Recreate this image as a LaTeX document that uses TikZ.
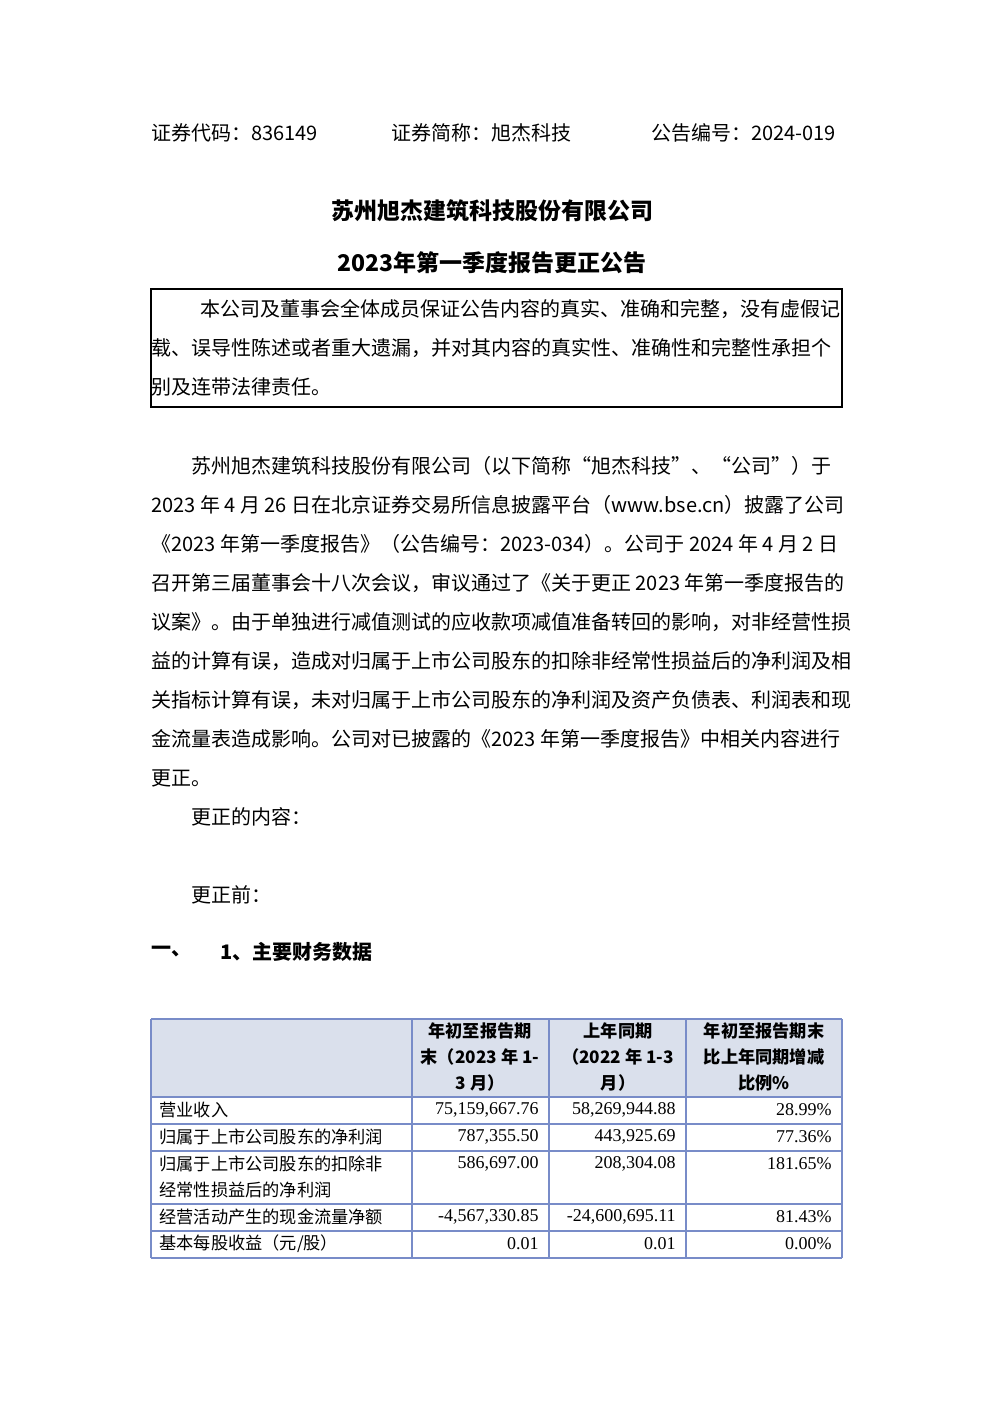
\documentclass[tikz,border=0pt]{standalone}
\usepackage{fontspec}
\setmainfont{Liberation Serif}
\newfontfamily\cjk{Noto Sans CJK SC}
\usetikzlibrary{positioning}
\definecolor{hdrfill}{RGB}{218,224,236}
\definecolor{tblline}{RGB}{120,140,200}
\tikzset{
  txt/.style={anchor=west, inner sep=0pt, font=\cjk\fontsize{10}{12}\selectfont},
  ttl/.style={anchor=center, inner sep=0pt, font=\cjk\bfseries\fontsize{11.5}{13}\selectfont},
  hd/.style={anchor=center, inner sep=0pt, font=\cjk\bfseries\fontsize{8.6}{10}\selectfont},
  cl/.style={anchor=west, inner sep=0pt, font=\cjk\fontsize{8.6}{10}\selectfont},
  num/.style={anchor=east, inner sep=0pt, font=\fontsize{9}{10}\selectfont}
}
\begin{document}
\begin{tikzpicture}[x=0.5pt,y=-0.5pt]
    \useasboundingbox (0,0) rectangle (992,1403);
    % header line
    \node [txt] (code) at (151,133) {证券代码：836149};
    \node [txt] (abbr) at (391,133) {证券简称：旭杰科技};
    \node [txt] (num) at (651,133) {公告编号：2024-019};
    % titles
    \node [ttl] (title1) at (492,211) {苏州旭杰建筑科技股份有限公司};
    \node [ttl] (title2) at (492,263) {2023年第一季度报告更正公告};
    % statement box
    \draw [line width=0.8pt] (151,289) rectangle (842,407);
    \node [txt] (st1) at (200,309) {本公司及董事会全体成员保证公告内容的真实、准确和完整，没有虚假记};
    \node [txt] (st2) at (151,348) {载、误导性陈述或者重大遗漏，并对其内容的真实性、准确性和完整性承担个};
    \node [txt] (st3) at (151,387) {别及连带法律责任。};
    % body
    \node [txt] (p1) at (191,466) {苏州旭杰建筑科技股份有限公司（以下简称“旭杰科技”、“公司”）于};
    \node [txt] (p2) at (151,505) {2023 年 4 月 26 日在北京证券交易所信息披露平台（www.bse.cn）披露了公司};
    \node [txt] (p3) at (151,544) {《2023 年第一季度报告》（公告编号：2023-034）。公司于 2024 年 4 月 2 日};
    \node [txt] (p4) at (151,583) {召开第三届董事会十八次会议，审议通过了《关于更正 2023 年第一季度报告的};
    \node [txt] (p5) at (151,622) {议案》。由于单独进行减值测试的应收款项减值准备转回的影响，对非经营性损};
    \node [txt] (p6) at (151,661) {益的计算有误，造成对归属于上市公司股东的扣除非经常性损益后的净利润及相};
    \node [txt] (p7) at (151,700) {关指标计算有误，未对归属于上市公司股东的净利润及资产负债表、利润表和现};
    \node [txt] (p8) at (151,739) {金流量表造成影响。公司对已披露的《2023 年第一季度报告》中相关内容进行};
    \node [txt] (p9) at (151,778) {更正。};
    \node [txt] (content) at (191,817) {更正的内容：};
    \node [txt] (before) at (191,895) {更正前：};
    \node [txt, font=\cjk\bfseries\fontsize{10}{12}\selectfont] (sec) at (151,952) {一、};
    \node [txt, font=\cjk\bfseries\fontsize{10}{12}\selectfont] (sub) at (220,952) {1、主要财务数据};
    % table
    \fill [hdrfill] (151,1019) rectangle (842,1097);
    \foreach \y in {1019,1097,1124,1151,1204,1231,1258}
        \draw [tblline, line width=0.6pt] (151,\y) -- (842,\y);
    \foreach \x in {151,412,549,686,842}
        \draw [tblline, line width=0.6pt] (\x,1019) -- (\x,1258);
    \node [hd] (h1a) at (480,1031) {年初至报告期};
    \node [hd] (h1b) at (480,1057) {末（2023 年 1-};
    \node [hd] (h1c) at (480,1083) {3 月）};
    \node [hd] (h2a) at (618,1031) {上年同期};
    \node [hd] (h2b) at (618,1057) {（2022 年 1-3};
    \node [hd] (h2c) at (618,1083) {月）};
    \node [hd] (h3a) at (764,1031) {年初至报告期末};
    \node [hd] (h3b) at (764,1057) {比上年同期增减};
    \node [hd] (h3c) at (764,1083) {比例\%};
    \foreach \y/\lbl/\a/\b/\c in {
        1110/{营业收入}/{75,159,667.76}/{58,269,944.88}/{28.99\%},
        1137/{归属于上市公司股东的净利润}/{787,355.50}/{443,925.69}/{77.36\%},
        1164/{归属于上市公司股东的扣除非}/{586,697.00}/{208,304.08}/{181.65\%},
        1217/{经营活动产生的现金流量净额}/{-4,567,330.85}/{-24,600,695.11}/{81.43\%},
        1244/{基本每股收益（元/股）}/{0.01}/{0.01}/{0.00\%}}{
        \node [cl] at (159,\y) {\lbl};
        \node [num] at (539,\y) {\a};
        \node [num] at (676,\y) {\b};
        \node [num] at (832,\y) {\c};
    }
    \node [cl] (r3b) at (159,1190) {经常性损益后的净利润};
\end{tikzpicture}
\end{document}
